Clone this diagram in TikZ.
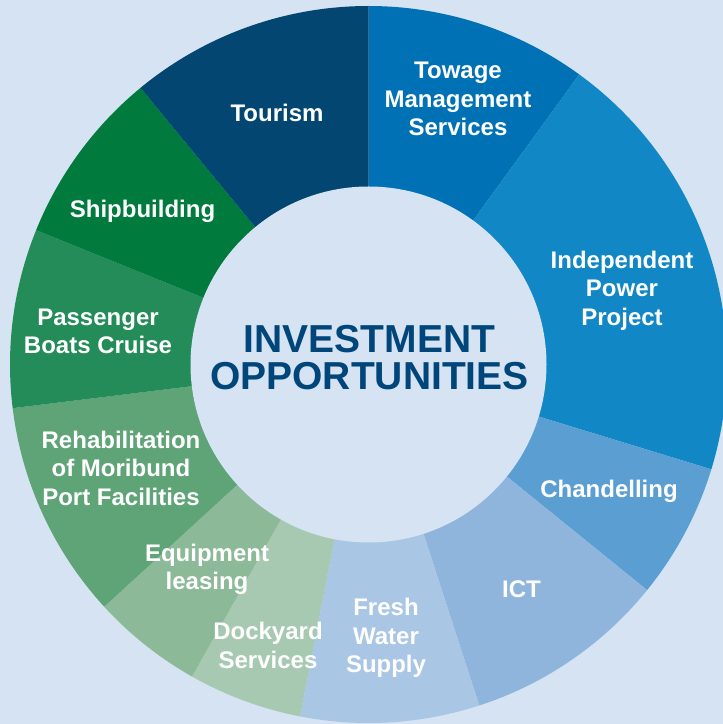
\documentclass[tikz,border=0pt]{standalone}
\usepackage{fontspec}
\setmainfont{Liberation Sans}
\definecolor{bg}{HTML}{D5E3F3}
\definecolor{cTour}{HTML}{034672}
\definecolor{cTow}{HTML}{0071B5}
\definecolor{cIPP}{HTML}{1187C5}
\definecolor{cChan}{HTML}{5B9FD2}
\definecolor{cICT}{HTML}{8FB5DC}
\definecolor{cFresh}{HTML}{A9C6E4}
\definecolor{cDock}{HTML}{A8C9B1}
\definecolor{cEquip}{HTML}{8CB998}
\definecolor{cRehab}{HTML}{5EA477}
\definecolor{cPass}{HTML}{238C58}
\definecolor{cShip}{HTML}{007A3D}
\definecolor{cTitle}{HTML}{00467A}
\begin{document}
\begin{tikzpicture}[x=1pt,y=1pt,
  lbl/.style={text=white, font=\bfseries\fontsize{24}{28.5}\selectfont, align=center, inner sep=0pt},
  title/.style={text=cTitle, font=\bfseries\fontsize{39}{37}\selectfont, align=center, inner sep=0pt}]
\fill[bg] (0,0) rectangle (723,724);
\useasboundingbox (0,0) rectangle (723,724);
\clip (0,0) rectangle (723,724);
\coordinate (C) at (368.5,359.5);
\foreach \a/\b/\c in {54/90/cTow, -17/54/cIPP, -39/-17/cChan, -72/-39/cICT,
  -101/-72/cFresh, -119.5/-101/cDock, -137.5/-119.5/cEquip, -173/-137.5/cRehab,
  158/187/cPass, 129.5/158/cShip, 90/129.5/cTour}
  \fill[\c] (C) -- ++(\a:358.5) arc[start angle=\a, end angle=\b, radius=358.5] -- cycle;
\fill[bg] (C) circle[radius=178];
\node[title] (hub) at (369.5,366.5) {INVESTMENT\\OPPORTUNITIES};
\node[lbl] (tour) at (277,611) {Tourism};
\node[lbl] (tow) at (458,625) {Towage\\Management\\Services};
\node[lbl] (ipp) at (622,433.5) {Independent\\Power\\Project};
\node[lbl] (chan) at (609,233) {Chandelling};
\node[lbl] (ict) at (521.5,135) {ICT};
\node[lbl] (fresh) at (386,86) {Fresh\\Water\\Supply};
\node[lbl] (dock) at (268,78.5) {Dockyard\\Services};
\node[lbl] (equip) at (207,154.5) {Equipment\\leasing};
\node[lbl] (rehab) at (121,255.6) {Rehabilitation\\of Moribund\\Port Facilities};
\node[lbl] (pass) at (98,392.5) {Passenger\\Boats Cruise};
\node[lbl] (ship) at (142.5,512.5) {Shipbuilding};
\end{tikzpicture}
\end{document}
